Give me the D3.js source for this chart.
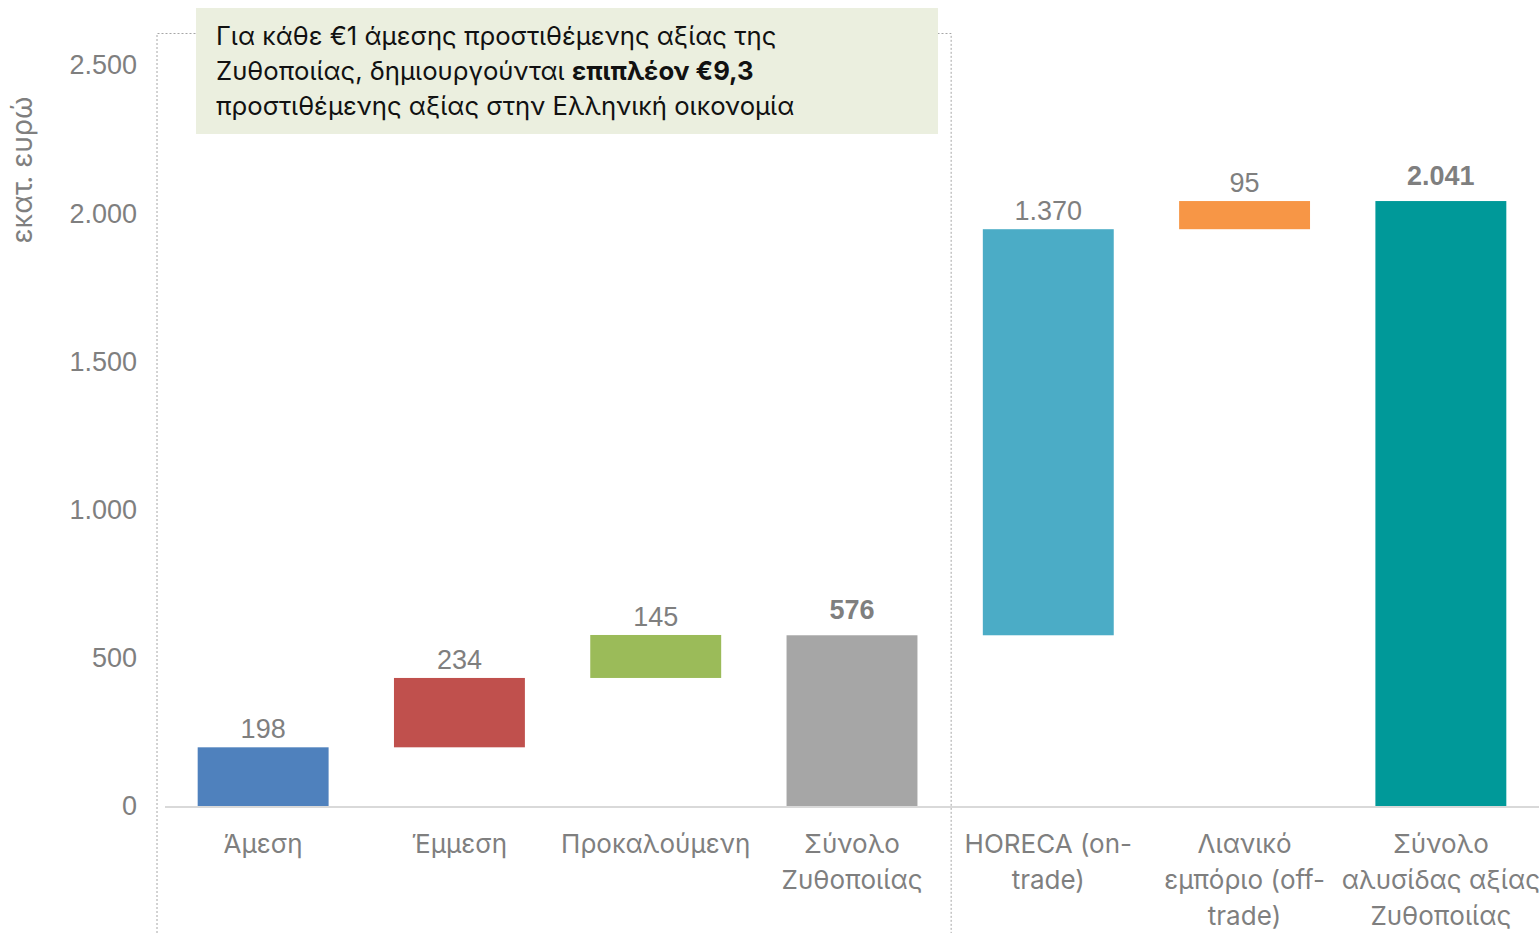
<!DOCTYPE html>
<html>
<head>
<meta charset="utf-8">
<script src="https://cdn.jsdelivr.net/npm/d3@7"></script>
<style>
  body { margin: 0; background: #fff; }
  svg { display: block; }
</style>
</head>
<body>
<div id="app"></div>
<script>
// waterfall data (εκατ. ευρώ)
const categories = ['Άμεση', 'Έμμεση', 'Προκαλούμενη', 'Σύνολο\nΖυθοποιίας',
  'HORECA (on-\ntrade)', 'Λιανικό\nεμπόριο (off-\ntrade)', 'Σύνολο\nαλυσίδας αξίας\nΖυθοποιίας'];
const values = [198, 234, 145, 576, 1370, 95, 2041];
const isTotal = [false, false, false, true, false, false, true];
const barColors = ['#4F81BD', '#C0504D', '#9BBB59', '#A6A6A6', '#4BACC6', '#F79646', '#009999'];
const yTicks = [0, 500, 1000, 1500, 2000, 2500];
const noteLines = [
  [['Για κάθε €1 άμεσης προστιθέμενης αξίας της', false]],
  [['Ζυθοποιίας, δημιουργούνται ', false], ['επιπλέον €9,3', true]],
  [['προστιθέμενης αξίας στην Ελληνική οικονομία', false]]
];

(() => {
  const width = 1539;
  const height = 933;
  const left = 165;
  const bottom = 806;
  const top = 65;
  const grey = '#7F7F7F';
  const labelFont = 'Liberation Sans, Arial, sans-serif';
  const catFont = 'Inter, Noto Sans, sans-serif';

  // compute bar starts / ends for the waterfall
  let running = 0;
  const bars = values.map((v, i) => {
    let y0, y1;
    if (isTotal[i]) { y0 = 0; y1 = v; running = v; } else { y0 = running; y1 = running + v; running = y1; }
    return { cat: categories[i], value: v, y0, y1, total: isTotal[i], color: barColors[i] };
  });

  const x = d3.scaleBand().domain(categories).range([left, width]).paddingInner(0.333).paddingOuter(0.1665);
  const y = d3.scaleLinear().domain([0, 2500]).range([bottom, top]);

  const svg = d3.select('#app').append('svg')
    .attr('width', width)
    .attr('height', height);

  // dotted frame around the brewery group
  const frameL = 157;
  const frameR = left + x.step() * 4 + 1;
  svg.append('path')
    .attr('d', `M${frameL},${height} V33.5 H${frameR} V${height}`)
    .attr('fill', 'none')
    .attr('stroke', '#A6A6A6')
    .attr('stroke-width', 1)
    .attr('stroke-dasharray', '2,2');

  // annotation box
  svg.append('rect')
    .attr('x', 196).attr('y', 8)
    .attr('width', 742).attr('height', 126)
    .attr('fill', '#EBEFDF');

  const note = svg.append('text')
    .attr('font-family', catFont)
    .attr('font-size', '25.7px')
    .attr('fill', '#111');
  noteLines.forEach((parts, i) => {
    const line = note.append('tspan').attr('x', 216).attr('y', 45 + i * 35);
    parts.forEach(([t, bold]) => {
      line.append('tspan').text(t).attr('font-weight', bold ? 700 : 400);
    });
  });

  // y axis tick labels
  svg.append('g')
    .selectAll('text')
    .data(yTicks)
    .enter()
    .append('text')
    .text(d => d3.format(',')(d).replace(/,/g, '.'))
    .attr('x', 137)
    .attr('y', d => y(d))
    .attr('dy', '0.35em')
    .attr('text-anchor', 'end')
    .attr('font-family', labelFont)
    .attr('font-size', '27px')
    .attr('fill', grey);

  svg.append('text')
    .text('εκατ. ευρώ')
    .attr('transform', 'translate(32,170) rotate(-90)')
    .attr('text-anchor', 'middle')
    .attr('font-family', catFont)
    .attr('font-size', '28px')
    .attr('fill', grey);

  // bars
  svg.append('g')
    .selectAll('rect')
    .data(bars)
    .enter()
    .append('rect')
    .attr('x', d => x(d.cat))
    .attr('y', d => y(d.y1))
    .attr('width', x.bandwidth())
    .attr('height', d => y(d.y0) - y(d.y1))
    .attr('fill', d => d.color);

  // baseline
  svg.append('line')
    .attr('x1', left).attr('x2', width)
    .attr('y1', y(0) + 1).attr('y2', y(0) + 1)
    .attr('stroke', '#D9D9D9')
    .attr('stroke-width', 2);

  // value labels
  svg.append('g')
    .selectAll('text')
    .data(bars)
    .enter()
    .append('text')
    .text(d => d3.format(',')(d.value).replace(/,/g, '.'))
    .attr('x', d => x(d.cat) + x.bandwidth() / 2)
    .attr('y', d => y(d.y1) - (d.total ? 16 : 9))
    .attr('text-anchor', 'middle')
    .attr('font-family', labelFont)
    .attr('font-size', '27px')
    .attr('font-weight', d => d.total ? 700 : 400)
    .attr('fill', grey);

  // category labels
  const cats = svg.append('g')
    .selectAll('text')
    .data(categories)
    .enter()
    .append('text')
    .attr('text-anchor', 'middle')
    .attr('font-family', catFont)
    .attr('font-size', '26px')
    .attr('fill', grey);
  cats.each(function (d) {
    const cx = x(d) + x.bandwidth() / 2;
    d.split('\n').forEach((t, i) => {
      d3.select(this).append('tspan').attr('x', cx).attr('y', 853 + i * 36).text(t);
    });
  });
})();
</script>
</body>
</html>
